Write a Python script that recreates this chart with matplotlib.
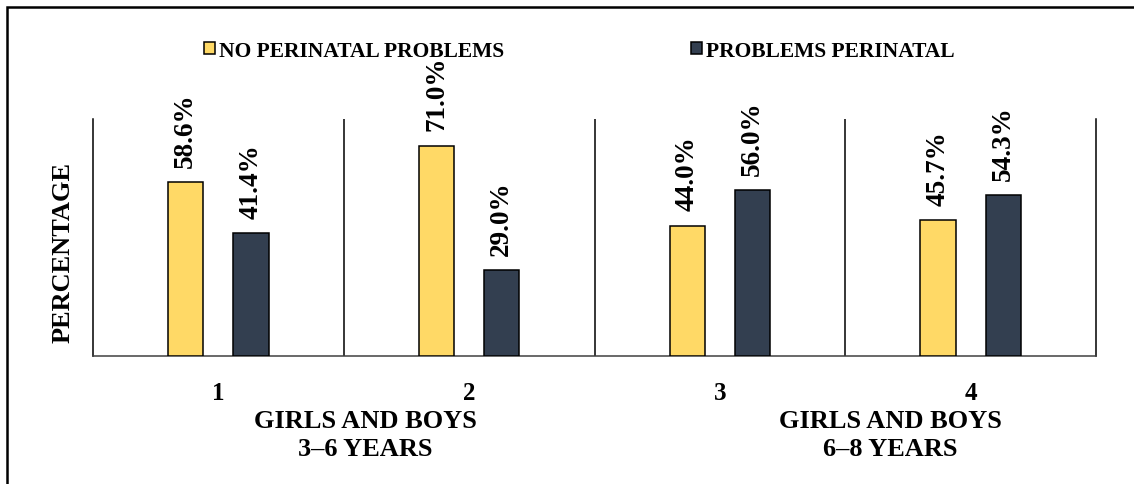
import matplotlib
matplotlib.use("Agg")
import matplotlib.pyplot as plt
from matplotlib.patches import Rectangle

# Values per group (percent)
groups = [1, 2, 3, 4]
tick_labels = ["1", "2", "3", "4"]
no_problems = [58.6, 71.0, 44.0, 45.7]
problems = [41.4, 29.0, 56.0, 54.3]
series_names = ["NO PERINATAL PROBLEMS", "PROBLEMS PERINATAL"]
age_labels = ["GIRLS AND BOYS\n3\u20136 YEARS", "GIRLS AND BOYS\n6\u20138 YEARS"]
age_label_x = [1.585, 3.68]

plt.rcParams["font.family"] = "Liberation Serif"
plt.rcParams["font.weight"] = "bold"

W, H = 1134, 485
fig = plt.figure(figsize=(W / 100, H / 100), dpi=100)
ax = fig.add_axes([93 / W, (H - 356.7) / H, (1096 - 93) / W, (356.7 - 120) / H])

yellow = "#FFD966"
navy = "#333F50"
width = 0.14
offset = 0.13

xs_a = [g - offset for g in groups]
xs_b = [g + offset for g in groups]
bars_a = ax.bar(xs_a, no_problems, width, color=yellow, edgecolor="black",
                linewidth=1.1, label=series_names[0], zorder=3)
bars_b = ax.bar(xs_b, problems, width, color=navy, edgecolor="black",
                linewidth=1.1, label=series_names[1], zorder=3)

# value labels, rotated
for xs, vals in [(xs_a, no_problems), (xs_b, problems)]:
    for x, v in zip(xs, vals):
        ax.annotate(f"{v:.1f}%", (x, v), xytext=(0, 11), textcoords="offset points",
                    rotation=90, ha="center", va="bottom", fontsize=19.5, fontweight="bold")

ax.set_xlim(0.5, 4.5)
ax.set_ylim(0, 80)

# group dividers
for d in [1.5, 2.5, 3.5]:
    ax.axvline(d, color="black", linewidth=1.1, zorder=2)

ax.spines["top"].set_visible(False)
ax.spines["left"].set_linewidth(1.1)
ax.spines["right"].set_linewidth(1.1)
ax.spines["bottom"].set_linewidth(1.1)
ax.spines["bottom"].set_color("#404040")

ax.set_yticks([])
ax.set_xticks(groups)
ax.set_xticklabels(tick_labels, fontsize=18, fontweight="bold")
ax.tick_params(axis="x", length=0, pad=18)

for x, txt in zip(age_label_x, age_labels):
    ax.text(x, -0.333, txt, transform=ax.get_xaxis_transform(), ha="center", va="center",
            fontsize=19, fontweight="bold", linespacing=1.3)

ax.text(-0.030, 0.44, "PERCENTAGE", transform=ax.transAxes, rotation=90,
        ha="center", va="center", fontsize=19, fontweight="bold")

fig.legend(handles=[bars_a, bars_b], loc="center", bbox_to_anchor=(579.5 / W, (H - 52) / H),
           ncol=2, frameon=False, prop={"family": "Liberation Serif", "weight": "bold", "size": 15.5},
           handlelength=0.5, handleheight=0.5, handletextpad=0.2, columnspacing=8.7)

# outer frame (runs past the right and bottom edges)
fig.add_artist(Rectangle((7 / W, -0.2), 1.5, (H - 7.5) / H + 0.2, transform=fig.transFigure,
                         fill=False, edgecolor="black", linewidth=1.8))

fig.savefig("out.png", dpi=100)
